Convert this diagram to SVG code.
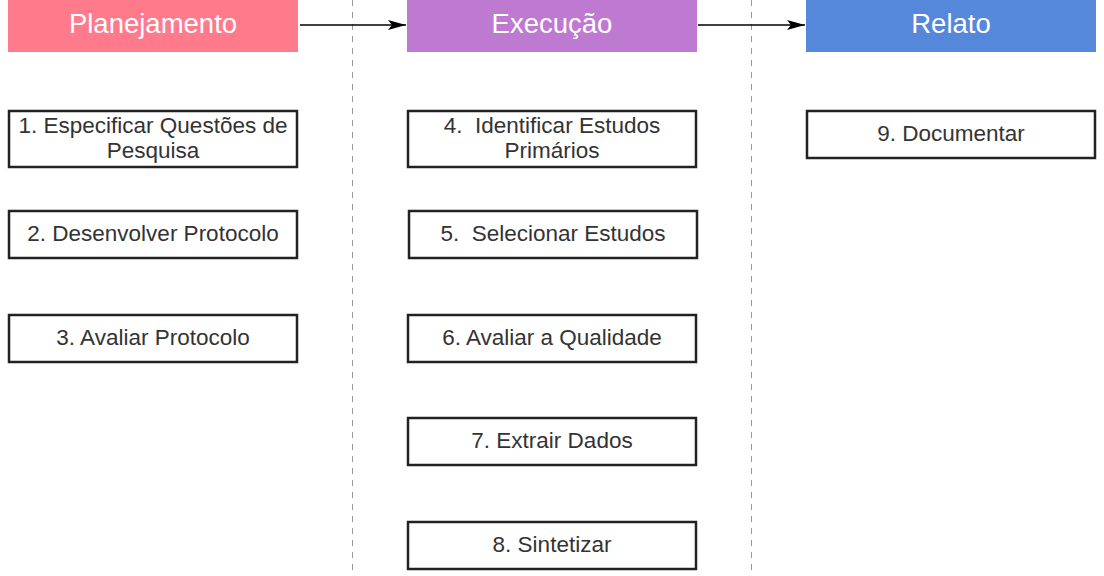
<svg xmlns="http://www.w3.org/2000/svg" width="1104" height="576" viewBox="0 0 1104 576">
<defs>
<marker id="arr" markerWidth="18" markerHeight="10" refX="18" refY="5" orient="auto" markerUnits="userSpaceOnUse">
<path d="M0,0 L18,5 L0,10 L4,5 z" fill="#000"/>
</marker>
</defs>
<style>
.hdr text{font-family:"Liberation Sans",Arial,sans-serif;font-size:27.5px;fill:#fff;text-anchor:middle}
.box rect{fill:#fff;stroke:#222;stroke-width:2.5}
.box text{font-family:"Liberation Sans",Arial,sans-serif;font-size:22.5px;fill:#333;text-anchor:middle;white-space:pre}
.lane{stroke:#999;stroke-width:1;stroke-dasharray:6,6}
.conn{stroke:#000;stroke-width:1.3;fill:none}
</style>
<rect width="1104" height="576" fill="#fff"/>
<g id="lanes">
<line class="lane" x1="352.5" y1="0" x2="352.5" y2="576"/>
<line class="lane" x1="751.5" y1="0" x2="751.5" y2="576"/>
</g>
<g id="planejamento" class="hdr"><rect x="8" y="0" width="290" height="52" fill="#FF7A8B"/><text x="153" y="33">Planejamento</text></g>
<g id="execucao" class="hdr"><rect x="407" y="0" width="290" height="52" fill="#BE79D0"/><text x="552" y="33">Execução</text></g>
<g id="relato" class="hdr"><rect x="806" y="0" width="290" height="52" fill="#5587DA"/><text x="951" y="33">Relato</text></g>
<g id="connectors">
<line class="conn" x1="300" y1="25" x2="406" y2="25" marker-end="url(#arr)"/>
<line class="conn" x1="698" y1="25" x2="805" y2="25" marker-end="url(#arr)"/>
</g>
<g id="n1" class="box"><rect x="9" y="111" width="288" height="56"/><text x="153" y="133">1. Especificar Questões de</text><text x="153" y="158">Pesquisa</text></g>
<g id="n2" class="box"><rect x="9" y="211" width="288" height="47"/><text x="153" y="241">2. Desenvolver Protocolo</text></g>
<g id="n3" class="box"><rect x="9" y="315" width="288" height="47"/><text x="153" y="345">3. Avaliar Protocolo</text></g>
<g id="n4" class="box"><rect x="408" y="111" width="288" height="56"/><text x="552" y="133" xml:space="preserve">4.  Identificar Estudos</text><text x="552" y="158">Primários</text></g>
<g id="n5" class="box"><rect x="409" y="211" width="288" height="47"/><text x="553" y="241" xml:space="preserve">5.  Selecionar Estudos</text></g>
<g id="n6" class="box"><rect x="408" y="315" width="288" height="47"/><text x="552" y="345">6. Avaliar a Qualidade</text></g>
<g id="n7" class="box"><rect x="408" y="418" width="288" height="47"/><text x="552" y="448">7. Extrair Dados</text></g>
<g id="n8" class="box"><rect x="408" y="522" width="288" height="47"/><text x="552" y="552">8. Sintetizar</text></g>
<g id="n9" class="box"><rect x="807" y="111" width="288" height="47"/><text x="951" y="141">9. Documentar</text></g>
</svg>
